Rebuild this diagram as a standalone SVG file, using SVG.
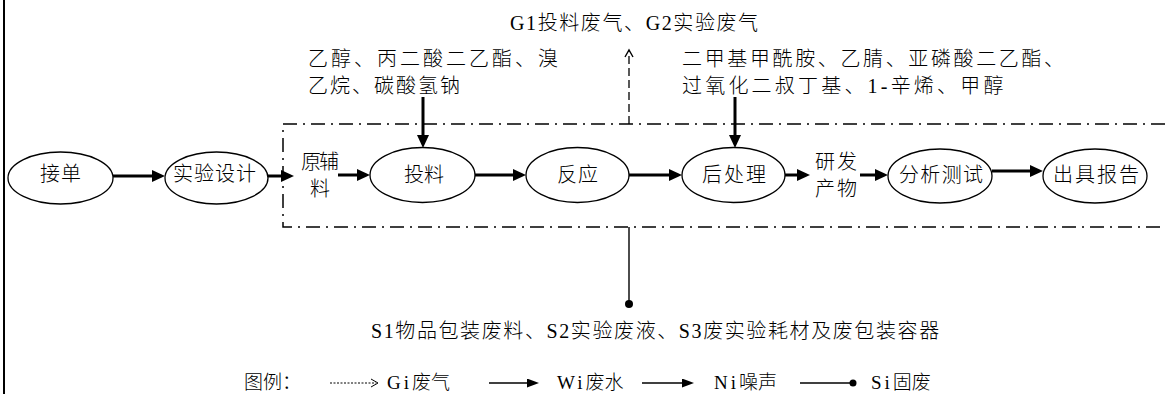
<svg xmlns="http://www.w3.org/2000/svg" width="1165" height="394" viewBox="0 0 1165 394">
<style>
text{font-family:"Liberation Serif","Noto Sans CJK SC",serif;font-size:20px;fill:#000;font-weight:300}
.lt{letter-spacing:3px}
.lg{font-size:19px}
.node ellipse{fill:#fff;stroke:#000;stroke-width:1.3}
.thick{stroke:#000;stroke-width:3;fill:none}
.thin{stroke:#000;stroke-width:1.4;fill:none}
.box{stroke:#000;stroke-width:1.5;fill:none;stroke-dasharray:14 6 2 6}
.gas{stroke:#000;stroke-width:1.3;fill:none;stroke-dasharray:8 4}
</style>
<defs>
<marker id="ah" markerUnits="userSpaceOnUse" markerWidth="13" markerHeight="12" refX="0" refY="6" orient="auto" viewBox="0 0 13 12">
<path d="M0,0 L13,6 L0,12 z" fill="#000"/>
</marker>
<marker id="ahs" markerUnits="userSpaceOnUse" markerWidth="12" markerHeight="9" refX="0" refY="4.5" orient="auto" viewBox="0 0 12 9">
<path d="M0,0 L12,4.5 L0,9 z" fill="#000"/>
</marker>
</defs>
<rect width="1165" height="394" fill="#fff"/>
<line x1="4" y1="0" x2="4" y2="394" stroke="#000" stroke-width="2"/>
<path class="box" d="M1165,124 H283 V227 H1165"/>
<g id="n-jiedan" class="node"><ellipse cx="60.5" cy="178" rx="52.5" ry="26"/><text x="40" y="181" textLength="41" lengthAdjust="spacing">接单</text></g>
<g id="n-sheji" class="node"><ellipse cx="216.5" cy="178" rx="51.5" ry="26"/><text x="173" y="181" textLength="83" lengthAdjust="spacing">实验设计</text></g>
<g id="n-yuanfuliao"><text x="301" y="169" textLength="38" lengthAdjust="spacing">原辅</text><text x="310" y="196">料</text></g>
<g id="n-touliao" class="node"><ellipse cx="422.5" cy="175" rx="52.5" ry="27.5"/><text x="404" y="182" textLength="40" lengthAdjust="spacing">投料</text></g>
<g id="n-fanying" class="node"><ellipse cx="577.5" cy="175" rx="51.5" ry="27.5"/><text x="557" y="182" textLength="41" lengthAdjust="spacing">反应</text></g>
<g id="n-houchuli" class="node"><ellipse cx="733.5" cy="175" rx="51.5" ry="27.5"/><text x="702" y="182" textLength="64" lengthAdjust="spacing">后处理</text></g>
<g id="n-chanwu"><text x="815" y="169" textLength="42" lengthAdjust="spacing">研发</text><text x="815" y="196" textLength="42" lengthAdjust="spacing">产物</text></g>
<g id="n-fenxi" class="node"><ellipse cx="940" cy="176" rx="52" ry="27"/><text x="899" y="182" textLength="84" lengthAdjust="spacing">分析测试</text></g>
<g id="n-baogao" class="node"><ellipse cx="1095" cy="176" rx="52" ry="27"/><text x="1053" y="182" textLength="86" lengthAdjust="spacing">出具报告</text></g>
<g id="n-gas"><text x="510" y="30" style="letter-spacing:1.6px">G1投料废气、G2实验废气</text></g>
<g id="n-input1"><text x="308" y="66" textLength="250" lengthAdjust="spacing">乙醇、丙二酸二乙酯、溴</text><text x="308" y="93" textLength="152" lengthAdjust="spacing">乙烷、碳酸氢钠</text></g>
<g id="n-input2"><text x="682" y="66" textLength="382" lengthAdjust="spacing">二甲基甲酰胺、乙腈、亚磷酸二乙酯、</text><text x="682" y="93" style="letter-spacing:3.2px">过氧化二叔丁基、1-辛烯、甲醇</text></g>
<g id="n-solid"><text x="371" y="338" style="letter-spacing:1.6px">S1物品包装废料、S2实验废液、S3废实验耗材及废包装容器</text></g>
<g id="connectors">
<line class="thick" x1="113" y1="176" x2="152" y2="176" marker-end="url(#ah)"/>
<line class="thick" x1="268" y1="176" x2="281" y2="176" marker-end="url(#ah)"/>
<line class="thick" x1="338" y1="175" x2="357" y2="175" marker-end="url(#ah)"/>
<line class="thick" x1="475" y1="175" x2="513" y2="175" marker-end="url(#ah)"/>
<line class="thick" x1="629" y1="175" x2="669" y2="175" marker-end="url(#ah)"/>
<line class="thick" x1="785" y1="175" x2="797" y2="175" marker-end="url(#ah)"/>
<line class="thick" x1="860" y1="175" x2="875" y2="175" marker-end="url(#ah)"/>
<line class="thick" x1="992" y1="171" x2="1030" y2="171" marker-end="url(#ah)"/>
<line class="thick" x1="423" y1="97" x2="423" y2="135" marker-end="url(#ah)"/>
<line class="thick" x1="735" y1="97" x2="735" y2="135" marker-end="url(#ah)"/>
<line class="gas" x1="629" y1="124" x2="629" y2="51"/>
<path class="thin" d="M625,57 L629,50 L633,57" stroke-width="1.2"/>
<line class="thin" x1="629" y1="227" x2="629" y2="304"/>
<circle cx="629" cy="304" r="4" fill="#000"/>
</g>
<g id="legend">
<text class="lg" x="244" y="389">图例：</text>
<line x1="330" y1="383" x2="376" y2="383" stroke="#000" stroke-width="1" stroke-dasharray="2 1.5"/>
<path d="M371,379 L378,383 L371,387" fill="none" stroke="#000" stroke-width="1"/>
<text class="lg" x="387" y="389"><tspan class="lt">Gi</tspan>废气</text>
<line x1="489" y1="383" x2="527" y2="383" stroke="#000" stroke-width="1.3" marker-end="url(#ahs)"/>
<text class="lg" x="557" y="389"><tspan class="lt">Wi</tspan>废水</text>
<line x1="642" y1="383" x2="682" y2="383" stroke="#000" stroke-width="1.3" marker-end="url(#ahs)"/>
<text class="lg" x="714" y="389"><tspan class="lt">Ni</tspan>噪声</text>
<line x1="800" y1="383" x2="853" y2="383" stroke="#000" stroke-width="1.3"/>
<circle cx="853" cy="383" r="3.5" fill="#000"/>
<text class="lg" x="871" y="389"><tspan class="lt">Si</tspan>固废</text>
</g>
</svg>
